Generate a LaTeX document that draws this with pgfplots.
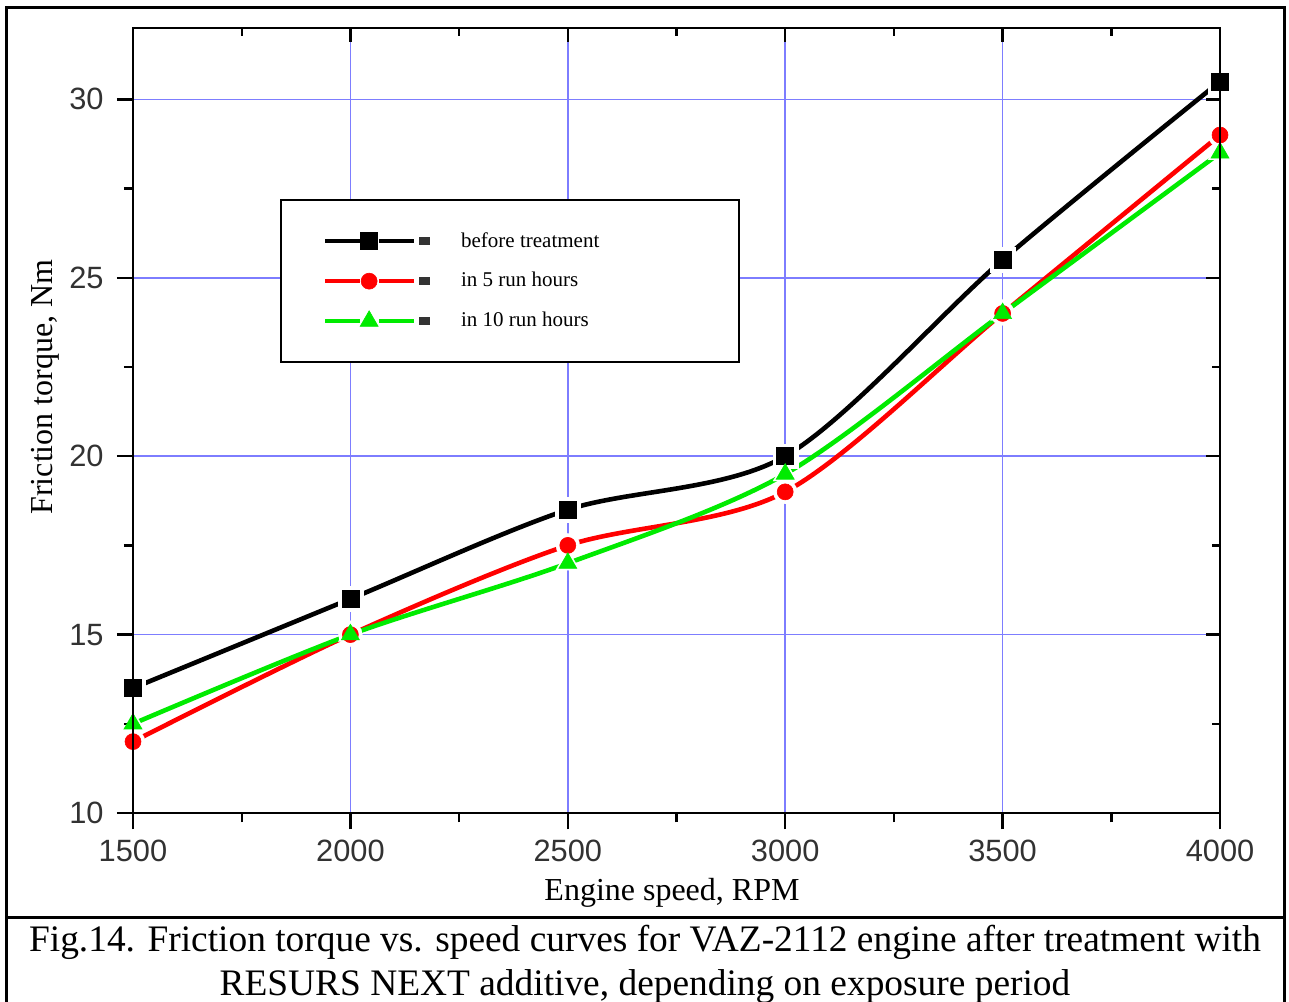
\documentclass[border=0pt]{standalone}
\usepackage{fontspec}
\setmainfont{Liberation Serif}
\newfontfamily\arialfont{Liberation Sans}
\usepackage{pgfplots}
\usepackage{pgfplotstable}
\pgfplotsset{compat=1.18}

\definecolor{gridblue}{RGB}{125,125,255}
\definecolor{mkred}{RGB}{255,0,0}
\definecolor{mkgreen}{RGB}{0,235,0}
\definecolor{ticktext}{RGB}{50,50,50}

% friction torque (Nm) against engine speed (RPM)
\pgfplotstableread{
rpm  before h5   h10
1500 13.5   12.0 12.5
2000 16.0   15.0 15.0
2500 18.5   17.5 17.0
3000 20.0   19.0 19.5
3500 25.5   24.0 24.0
4000 30.5   29.0 28.5
}\torque

\pgfplotsset{
  frame/.style={
    width=543.5pt, height=392.5pt, scale only axis,
    at={(0,0)}, anchor=south west,
    xmin=1500, xmax=4000, ymin=10, ymax=32,
    xtick={1500,2000,...,4000}, ytick={10,15,...,30},
    minor x tick num=1, minor y tick num=1,
    clip=false,
    axis line style={line width=1.4pt},
    tick style={black, line width=1.2pt},
  },
  curve/.style={line width=2.3pt, smooth},
  halo/.style={mark options={solid, draw=white, fill=white, line width=0.1pt}},
}

% legend symbol: line, marker, line, dash
\newcommand\legsym[3]{%
  \path[draw=none, fill=none] (-22pt,-10pt) rectangle (68pt,10pt);
  \draw[#1, line width=2.3pt] (0pt,0pt) -- (17.5pt,0pt) (27pt,0pt) -- (44.5pt,0pt);
  \draw[#1, fill=#1, line width=0.3pt] plot[mark=#2, mark size=#3,
    mark options={solid, draw=#1, fill=#1, line width=0.3pt}] coordinates {(22pt,0pt)};
  \fill[black!80] (48pt,-0.7pt) rectangle (51.5pt,0.7pt);
}

\newcommand\px[2]{({((#1)-133)*0.5pt},{(813-(#2))*0.5pt})}

\begin{document}
\begin{tikzpicture}
\useasboundingbox \px{0}{0} rectangle \px{1289}{1001};

% grid, labels and curves (white discs leave a gap around each marker)
\begin{axis}[frame,
  grid=major, major grid style={gridblue, line width=0.75pt},
  tick align=outside, xtick pos=left, ytick pos=left,
  major tick length=8pt, minor tick length=4.5pt,
  /pgf/number format/assume math mode=true,
  /pgf/number format/set thousands separator={},
  xticklabel style={font=\arialfont\fontsize{15.4}{18}\selectfont, text=ticktext, inner sep=0pt, yshift=-5.5pt},
  yticklabel style={font=\arialfont\fontsize{15.4}{18}\selectfont, text=ticktext, inner sep=0pt, xshift=-6.5pt},
  legend style={at={(rel axis cs:0.1352,0.7822)}, anchor=north west,
    draw=black, line width=1.2pt, fill=white,
    inner xsep=0pt, inner ysep=10.5pt, row sep=0pt, column sep=0pt,
    nodes={inner sep=0pt, anchor=west, draw=none},
    font=\fontsize{10.5}{12.5}\selectfont},
  legend cell align=left,
]
\addplot[black, curve, mark=square*, mark size=6.2pt, halo,
  legend image code/.code={\legsym{black}{square*}{4.25pt}}]
  table[x=rpm, y=before]{\torque};
\addlegendentry{\makebox[139pt][l]{before treatment}}
\addplot[mkred, curve, mark=*, mark size=6pt, halo,
  legend image code/.code={\legsym{mkred}{*}{4pt}}]
  table[x=rpm, y=h5]{\torque};
\addlegendentry{\makebox[139pt][l]{in 5 run hours}}
\addplot[mkgreen, curve, mark=triangle*, mark size=7pt, halo,
  legend image code/.code={\legsym{mkgreen}{triangle*}{5.2pt}}]
  table[x=rpm, y=h10]{\torque};
\addlegendentry{\makebox[139pt][l]{in 10 run hours}}
\end{axis}

% frame, outer ticks and the markers
\begin{axis}[frame,
  tick align=outside, xtick pos=left, ytick pos=left,
  major tick length=8pt, minor tick length=4.5pt,
  xticklabels={}, yticklabels={},
]
\addplot[only marks, black, mark=square*, mark size=4.25pt, mark options={fill=black, line width=0.3pt}]
  table[x=rpm, y=before]{\torque};
\addplot[only marks, mkred, mark=*, mark size=4pt, mark options={fill=mkred, line width=0.3pt}]
  table[x=rpm, y=h5]{\torque};
\addplot[only marks, mkgreen, mark=triangle*, mark size=5.2pt, mark options={fill=mkgreen, line width=0.3pt}]
  table[x=rpm, y=h10]{\torque};
\end{axis}

% inner ticks on top and right
\begin{axis}[frame,
  tick align=inside, xtick pos=right, ytick pos=right,
  major tick length=7pt, minor tick length=4pt,
  xticklabels={}, yticklabels={},
]
\end{axis}

% axis titles
\node[anchor=base, font=\fontsize{16}{19}\selectfont] at \px{672}{900} {Engine speed, RPM};
\node[anchor=base, rotate=90, font=\fontsize{16}{19}\selectfont] at \px{53}{387} {Friction torque, Nm};

% figure frame and caption
\draw[line width=1.5pt] \px{7}{1015} -- \px{7}{8} -- \px{1284}{8} -- \px{1284}{1015};
\draw[line width=1.5pt] \px{7}{917} -- \px{1284}{917};
\node[anchor=base, font=\fontsize{18.7}{22}\selectfont] at \px{645}{951}
  {Fig.14. Friction torque vs. speed curves for VAZ-2112 engine after treatment with};
\node[anchor=base, font=\fontsize{18.7}{22}\selectfont] at \px{645}{995}
  {RESURS NEXT additive, depending on exposure period};
\end{tikzpicture}
\end{document}
